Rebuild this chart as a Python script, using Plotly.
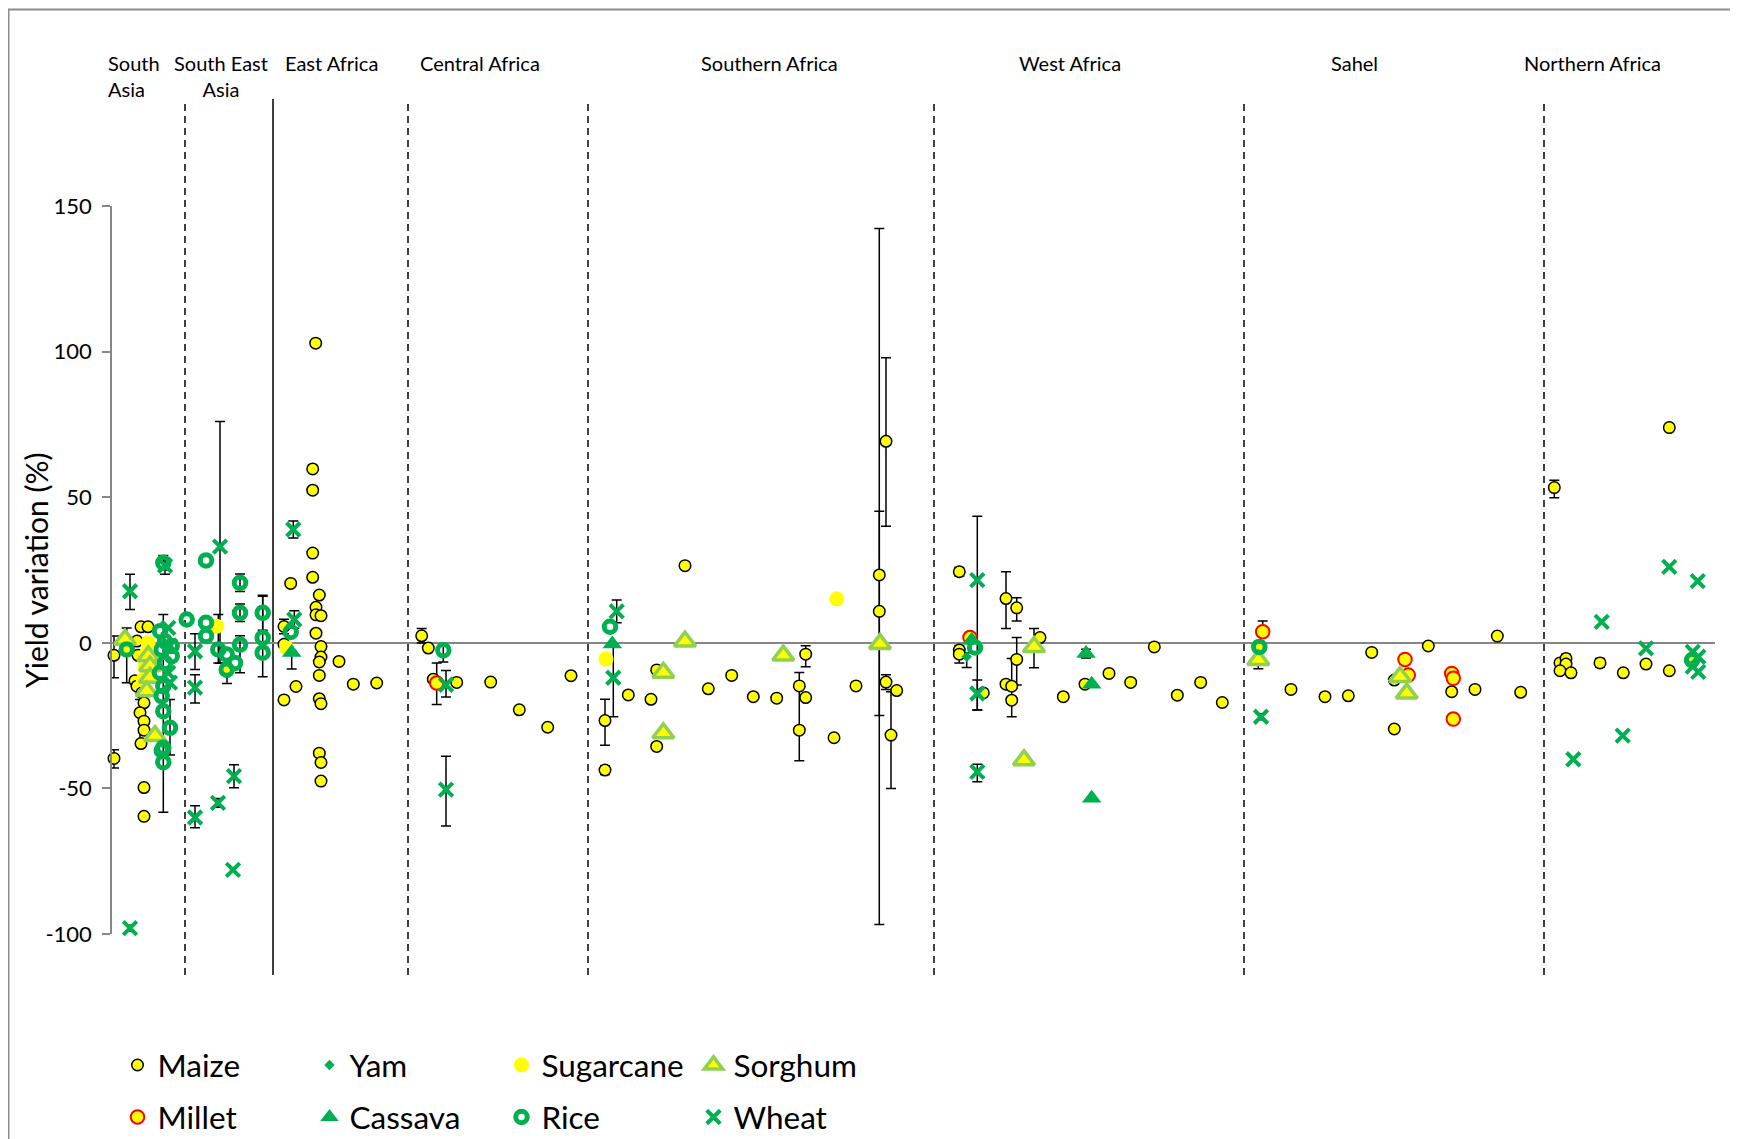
import plotly.graph_objects as go

N = None
# ---------------- data (x = site position along the transect, y = yield variation %) ----------------
# each entry: (position, value, err_plus, err_minus)
maize = [
    (114, -4.3, 6.6, 7.7), (114, -39.7, 3, 3.3), (137, 0.6, N, N), (138, -4.3, N, N), (141, 5.5, N, N),
    (148, 5.5, N, N), (135, -13, N, N), (137, -14.9, N, N), (142, -17.2, N, N), (144, -20.6, N, N),
    (140, -24, 4.5, 11), (144, -26.9, N, N), (144, -30, N, N), (141, -34.6, N, N), (144, -49.7, N, N),
    (144, -59.6, N, N),
    (227, -9.7, 1.7, 4.3),
    (315.7, 102.9, N, N), (312.7, 59.7, N, N), (312.7, 52.4, N, N), (312.7, 30.8, N, N), (312.7, 22.5, N, N),
    (290.7, 20.4, N, N), (319.3, 16.4, N, N), (316, 12.2, N, N), (316, 9.6, N, N), (321, 9.3, N, N),
    (316, 3.3, N, N), (321, -1.3, N, N), (321, -4.9, N, N), (319.3, -6.6, N, N), (319.3, -11.2, N, N),
    (319.3, -19.2, N, N), (321, -20.9, N, N), (319.3, -37.9, N, N), (321, -41.1, N, N), (321, -47.5, N, N),
    (284, 5.6, 2.5, 2.5), (284, -0.5, N, N), (296, -15, N, N), (284, -19.6, N, N), (339, -6.4, N, N),
    (353.3, -14.2, N, N), (376.7, -13.8, N, N),
    (421.7, 2.4, 2.5, 2.5), (428.3, -1.8, N, N), (433.3, -12.5, N, N), (456.7, -13.6, N, N),
    (490.7, -13.5, N, N), (519.3, -23, N, N), (547.7, -29, N, N), (571, -11.3, N, N),
    (605, -43.7, 1.5, 1.5), (605, -26.7, 7.3, 8.5), (628.3, -17.9, N, N), (651, -19.4, N, N),
    (656.7, -9.3, N, N), (656.7, -35.6, N, N), (685, 26.5, N, N), (708.3, -15.8, N, N), (731.7, -11.2, N, N),
    (753.3, -18.5, N, N), (776.7, -19, N, N), (799.3, -14.8, N, N), (799.3, -30, 19.8, 10.5),
    (805.7, -3.9, 2.9, 4.3), (805.7, -18.8, N, N), (834, -32.6, N, N), (856, -14.8, N, N),
    (879.3, 23.3, 119, 120), (879.3, 10.8, 34.4, 35.8), (886, 69.2, 28.7, 29.2), (886, -13.5, 2.5, 2.5),
    (896.7, -16.4, N, N), (891, -31.7, 14.9, 18.3),
    (959.3, 24.4, 1.5, 1.5), (959.3, -2.5, N, N), (959.3, -3.9, 3, 3), (983.3, -17.2, N, N),
    (1006, 15.2, 9.2, 10.3), (1016.7, 12, 3.5, 4.5), (1016.7, -5.7, 7.5, 8.8), (1006, -14.2, N, N),
    (1011.7, -14.9, N, N), (1011.7, -19.7, 14.3, 5.7), (1040, 1.8, N, N), (1063.3, -18.5, N, N),
    (1085, -14.2, N, N), (1109, -10.5, N, N), (1130.7, -13.6, N, N), (1154.3, -1.4, N, N),
    (1177.3, -18, N, N), (1200.7, -13.6, N, N), (1222.3, -20.5, N, N),
    (1259.3, -1.4, N, N), (1291, -16, N, N), (1325, -18.5, N, N), (1348.3, -18.2, N, N),
    (1371.7, -3.3, N, N), (1394.3, -29.6, N, N), (1394.3, -12.8, N, N), (1428.3, -1.1, N, N),
    (1451.7, -16.8, N, N), (1475, -16, N, N), (1497.3, 2.3, N, N), (1520.7, -17, N, N),
    (1554.3, 53.3, 2.5, 3.5), (1669.3, 73.9, N, N), (1560, -6.9, N, N), (1566, -5.4, 1.5, 1.5),
    (1566, -7.3, N, N), (1560, -9.6, N, N), (1571, -10.3, 1, 1), (1600, -6.9, 1.5, 1.5),
    (1623.3, -10.3, N, N), (1646, -7.3, N, N), (1669.3, -9.6, N, N), (1691.7, -5.4, N, N),
]
millet = [
    (127, -2.3, N, N), (436.7, -13.8, 6.9, 7.4), (970, 1.8, N, N), (1262.7, 3.8, 3.7, 1),
    (1405, -5.7, N, N), (1408.3, -11.1, N, N), (1451.7, -10.5, N, N), (1453.3, -12.2, N, N),
    (1453.3, -26.2, N, N),
]
sugarcane = [
    (148, 0, N, N), (146, -4, N, N), (145, -8, N, N), (143, -12.6, N, N), (216.7, 5.7, N, N),
    (286.7, -1.8, N, N), (606, -5.6, N, N), (836.7, 15.1, N, N),
]
sorghum = [
    (125, 1.1, N, N), (148.3, -4.6, N, N), (150, -8, N, N), (150, -12, N, N), (146.7, -16.6, N, N),
    (155, -32, N, N),
    (663.3, -10.2, N, N), (663.3, -31, N, N), (685, 0.5, N, N), (783.3, -4.3, 1, 1), (880, -0.4, N, N),
    (1034, -1.4, 6.3, 7.2), (1024, -40.3, N, N),
    (1258.3, -5.9, 3, 3), (1400, -11.7, N, N), (1406.7, -17.4, N, N),
]
cassava = [
    (291.7, -3.3, 0.5, 5.7), (612.3, -0.4, N, N), (971.7, 0.9, N, N), (1086, -3.7, 1.5, 1.5),
    (1091.7, -14.2, N, N), (1091.7, -53.4, N, N),
]
yam = [(966.7, -4.8, 1.4, 3.7)]
rice = [
    (126.7, -2.3, 7.4, 11.4), (160, 4, N, N), (163.3, 27.5, 2.5, 2.5), (161.7, -2.3, N, N),
    (165, -6.9, N, N), (160, -10.3, N, N), (163.3, -14.9, N, N), (161.7, -18.3, N, N),
    (163.3, -23.5, 33.2, 34.7), (170, -29.2, 9.7, 9.3), (163.3, -36, N, N), (161.7, -37, N, N),
    (163.3, -41, N, N), (171.7, -1.1, N, N), (171.7, -4.6, N, N), (165, 0.5, N, N),
    (186.7, 8, N, N), (206, 28.3, N, N), (206, 6.9, N, N), (206, 2.3, N, N), (218.3, -2.3, 12, 4.6),
    (226.7, -4, N, N), (226.7, -9.2, N, N), (235, -6.9, N, N), (240, 20.6, 3, 3), (240, 10.3, 3, 3),
    (240, -0.6, 3, 9.7), (262.7, 10.3, 6, 6), (262.7, 1.7, 14.3, 13.4), (262.7, -3.4, N, N),
    (290.7, 3.7, N, N), (443.3, -2.6, 2, 4), (610, 5.5, N, N), (975, -1.6, N, N),
    (1259.3, -1.4, 2, 2), (1692, -6, N, N),
]
wheat = [
    (130, 17.7, 5.8, 6.3), (130, -98, 1, 1), (165, 26.5, 2.5, 3), (168.3, 5.1, N, N), (170, -1, N, N),
    (168.3, -10.3, N, N), (170, -13.7, N, N),
    (195, -2.9, 6, 6.3), (195, -15.4, 4.4, 5.3), (195, -60, 4, 3.5), (218, -55, 1.5, 1.5),
    (220, 33, 43, 40), (234, -45.8, 3.9, 4), (233, -78, N, N),
    (293.3, 38.9, 2.9, 2.9), (294.3, 8, 3, 3),
    (446, -14.4, 4.9, 4.2), (446, -50.4, 11.4, 12.5),
    (616.7, 10.8, 3.9, 3.9), (613.3, -12, 11.6, 13.4),
    (977.3, 21.5, 22, 44.6), (977.3, -17.4, 4.6, 5.7), (977.3, -44.3, 2.6, 3.4),
    (1261, -25.4, 1, 1),
    (1573.3, -40, N, N), (1601.7, 7.2, N, N), (1622.7, -31.9, N, N), (1646, -1.9, N, N),
    (1669.3, 26.1, N, N), (1697.7, 21.2, N, N), (1692.7, -3.1, N, N), (1698.3, -4.8, N, N),
    (1692.7, -8.2, N, N), (1698.3, -10, N, N),
]

regions = ["South<br>Asia", "South East<br>Asia", "East Africa", "Central Africa", "Southern Africa",
           "West Africa", "Sahel", "Northern Africa"]
region_label_pos = [106, 221, 331, 480, 769, 1070, 1354, 1592]
region_bounds = [185, 273, 408, 588, 934, 1244, 1544]   # site positions separating regions
region_bound_dash = [True, False, True, True, True, True, True]
y_ticks = [-100, -50, 0, 50, 100, 150]
y_tick_text = ["-100", "-50", "0", "50", "100", "150"]

# ---------------- layout geometry (reference pixel frame; page body adds an 8px offset) ----------------
OFF = 8
W, H = 1738 - 2 * OFF, 1139 - OFF
L, R, T, B = 112, 1715, 206, 934          # plot area in reference pixels
PW, PH = R - L, B - T

def py(p):  # reference pixel row -> paper y
    return (B - p) / PH

def px(p):  # reference pixel column -> paper x
    return (p - L) / PW

fig = go.Figure()

GREEN = "#00B050"
series = [
    ("Maize", maize, dict(symbol="circle", color="#FFFF00", size=11.5, line=dict(color="black", width=1.5)), 1),
    ("Millet", millet, dict(symbol="circle", color="#FFFF00", size=13.5, line=dict(color="#FF0000", width=2)), 5),
    ("Sugarcane", sugarcane, dict(symbol="circle", color="#FFFF00", size=15, line=dict(width=0)), 3),
    ("Sorghum", sorghum, dict(symbol="triangle-up", color="#FFFF00", size=18.5, line=dict(color="#92D050", width=3.5)), 4),
    ("Yam", yam, dict(symbol="diamond", color=GREEN, size=8, line=dict(width=0)), 2),
    ("Cassava", cassava, dict(symbol="triangle-up", color=GREEN, size=17, line=dict(width=0)), 6),
    ("Rice", rice, dict(symbol="circle-open", color=GREEN, size=11.5, line=dict(width=5)), 7),
    ("Wheat", wheat, dict(symbol="x-thin-open", color=GREEN, size=13.5, line=dict(width=4, color=GREEN)), 8),
]

# error bars (drawn first, beneath markers)
ex, ey, ep, em = [], [], [], []
for _, data, _, _ in series:
    for (x, y, a, b) in data:
        if a is not None:
            ex.append(x); ey.append(y); ep.append(a); em.append(b)
fig.add_trace(go.Scatter(
    x=ex, y=ey, mode="markers", marker=dict(size=1, opacity=0), showlegend=False, hoverinfo="skip",
    cliponaxis=False,
    error_y=dict(type="data", symmetric=False, array=ep, arrayminus=em, color="black", thickness=1.5, width=5),
))

for name, data, mk, rank in series:
    fig.add_trace(go.Scatter(
        x=[d[0] for d in data], y=[d[1] for d in data], mode="markers", name=name,
        marker=mk, cliponaxis=False, legendrank=rank,
        legend="legend" if rank <= 4 else "legend2",
    ))

shapes = []
for xb, dashed in zip(region_bounds, region_bound_dash):
    shapes.append(dict(type="line", xref="x", yref="paper", x0=xb, x1=xb,
                       y0=py(975), y1=py(103 if xb == region_bounds[0] else 99),
                       line=dict(color="black", width=1.5, dash="7px,5px" if dashed else "solid"),
                       layer="below"))
# outer chart frame
shapes.append(dict(type="rect", xref="paper", yref="paper", x0=px(8.5), x1=px(1780), y0=py(1180), y1=py(9.5),
                   line=dict(color="#8c8c8c", width=2), fillcolor="rgba(0,0,0,0)", layer="below"))

annotations = []
for lab, xp in zip(regions, region_label_pos):
    two = "<br>" in lab
    first = lab.startswith("South<br>")
    annotations.append(dict(
        text=lab, x=px(xp), xref="paper", y=py(76.5) if two else py(63), yref="paper",
        xanchor="left" if first else "center", yanchor="middle",
        align="left" if first else "center",
        showarrow=False, font=dict(size=20, color="black")))
annotations.append(dict(text="Yield variation (%)", textangle=-90, x=px(36), xref="paper", y=py(571),
                        yref="paper", xanchor="center", yanchor="middle", showarrow=False,
                        font=dict(size=30, color="black")))

legend_common = dict(orientation="h", xanchor="left", yanchor="middle", bgcolor="rgba(0,0,0,0)",
                     font=dict(size=31.5, color="black", family="Lato"), entrywidth=147,
                     entrywidthmode="pixels", itemclick=False, itemdoubleclick=False, tracegroupgap=0)

fig.update_layout(
    width=W, height=H,
    margin=dict(l=L - OFF, r=W - (R - OFF), t=T - OFF, b=H - (B - OFF), autoexpand=False),
    paper_bgcolor="white", plot_bgcolor="white",
    font=dict(family="Lato", color="black"),
    xaxis=dict(range=[L, R], visible=False, showgrid=False, zeroline=False),
    yaxis=dict(range=[-100, 150], tickvals=y_ticks, ticktext=y_tick_text, showgrid=False, showline=True,
               linecolor="#868686", linewidth=1.5, ticks="outside", ticklen=8, tickcolor="#868686",
               tickwidth=1.5, zeroline=True, zerolinecolor="#868686", zerolinewidth=1.5,
               tickfont=dict(size=22, color="black"), ticklabelstandoff=6),
    legend=dict(legend_common, x=px(117.5), y=py(1065)),
    legend2=dict(legend_common, x=px(117.5), y=py(1117)),
    shapes=shapes, annotations=annotations, showlegend=True,
)

fig.write_html("out.html")
